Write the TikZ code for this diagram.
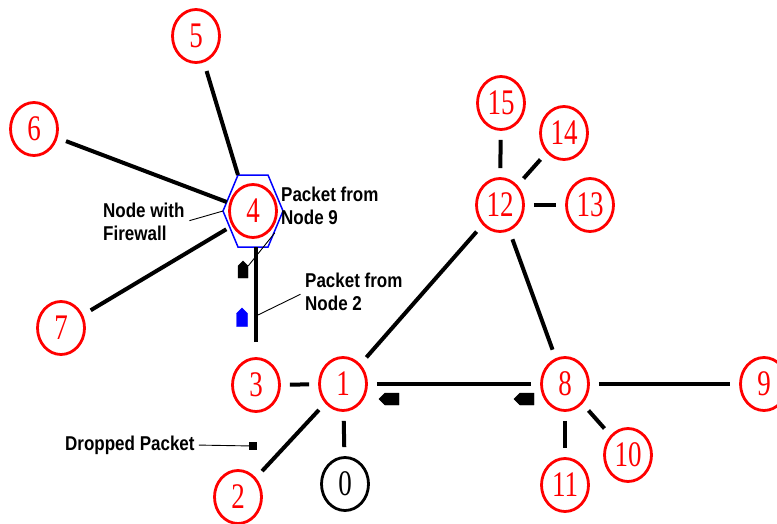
\documentclass[tikz,border=0pt]{standalone}
\usepackage{fontspec}
\newfontfamily\numfont{Liberation Serif}[FakeStretch=0.75]
\newfontfamily\notefont{Liberation Sans Bold}[FakeStretch=0.85]
\usetikzlibrary{calc}
\usetikzlibrary{shapes.geometric,shapes.symbols}

\tikzset{
  station/.style={ellipse, draw=red, text=red, line width=2.8pt,
    minimum width=47pt, minimum height=53pt, inner sep=0pt,
    font=\numfont\fontsize{36pt}{36pt}\selectfont},
  link/.style={line width=4pt, shorten <=9pt, shorten >=9pt},
  lead/.style={line width=0.9pt},
  packet/.style={signal, fill, draw, inner sep=0pt},
  note/.style={font=\notefont\fontsize{20pt}{23pt}\selectfont, align=left, inner sep=0pt}
}

\begin{document}
\begin{tikzpicture}[x=1pt, y=-1pt]
  \useasboundingbox (0,0) rectangle (777,523);
  \clip (0,0) rectangle (777,523);

  % the stations
  \foreach \i/\x/\y in {1/343/384, 2/238/497, 3/256/385, 5/196/36, 6/34/129,
      7/61/328, 8/565/384, 9/764/384, 10/628/455, 11/565/485,
      12/500/205, 13/590/205, 14/564/133, 15/501/103} {
    \node [station] (n\i) at (\x,\y) {\i};
  }
  \node [station, draw=black, text=black] (n0) at (345,484) {0};
  \node [station] (n4) at (253,211) {4};

  % firewall round node 4
  \coordinate (fw-nw) at ($(n4)+(-15,-36)$);
  \coordinate (fw-ne) at ($(n4)+(15,-36)$);
  \coordinate (fw-e)  at ($(n4)+(30,0)$);
  \coordinate (fw-se) at ($(n4)+(15,36)$);
  \coordinate (fw-sw) at ($(n4)+(-15,36)$);
  \coordinate (fw-w)  at ($(n4)+(-30,0)$);
  \draw [blue, line width=1.5pt] (fw-nw) -- (fw-ne) -- (fw-e) -- (fw-se)
    -- (fw-sw) -- (fw-w) -- cycle;

  \foreach \a/\b in {3/1, 1/2, 1/0, 1/8, 1/12, 12/8, 12/15, 12/14, 12/13,
      8/9, 8/10, 8/11} {
    \draw [link] (n\a) -- (n\b);
  }
  \draw [link, shorten >=0pt] (n5) -- (fw-nw);
  \draw [link, shorten >=0pt] (n6) -- ($(fw-w)!0.25!(fw-nw)$);
  \draw [link, shorten >=4pt] (n7) -- ($(fw-w)!0.45!(fw-sw)$);
  \draw [link, shorten <=15pt, shorten >=0pt] (n3) -- (n3 |- fw-sw);

  % packets in flight
  \node [packet, signal to=north, minimum width=10pt, minimum height=12pt] (pkt9) at (243,272) {};
  \node [packet, signal to=north, blue, minimum width=11pt, minimum height=13pt] (pkt2) at (242,320) {};
  \node [packet, signal to=west, minimum width=20pt, minimum height=12pt] (pkta) at (392,399) {};
  \node [packet, signal to=west, minimum width=20pt, minimum height=12pt] (pktb) at (527,399) {};
  \node [fill, minimum size=8pt, inner sep=0pt] (drop) at (253,446) {};

  \node [note, anchor=north west] (fwnote) at (103,203) {Node with\\Firewall};
  \node [note, anchor=north west] (p9note) at (281,187) {Packet from\\Node 9};
  \node [note, anchor=north west] (p2note) at (305,273) {Packet from\\Node 2};
  \node [note, anchor=west] (dropnote) at (65,445) {Dropped Packet};

  \draw [lead, shorten <=5pt] (fwnote.east) -- (fw-w);
  \draw [lead, shorten <=10pt] (p9note.south west) -- (pkt9.north east);
  \draw [lead, shorten <=5pt, shorten >=8pt] (p2note.west) -- (pkt2.east);
  \draw [lead, shorten <=4pt] (dropnote.east) -- (drop);
\end{tikzpicture}
\end{document}
